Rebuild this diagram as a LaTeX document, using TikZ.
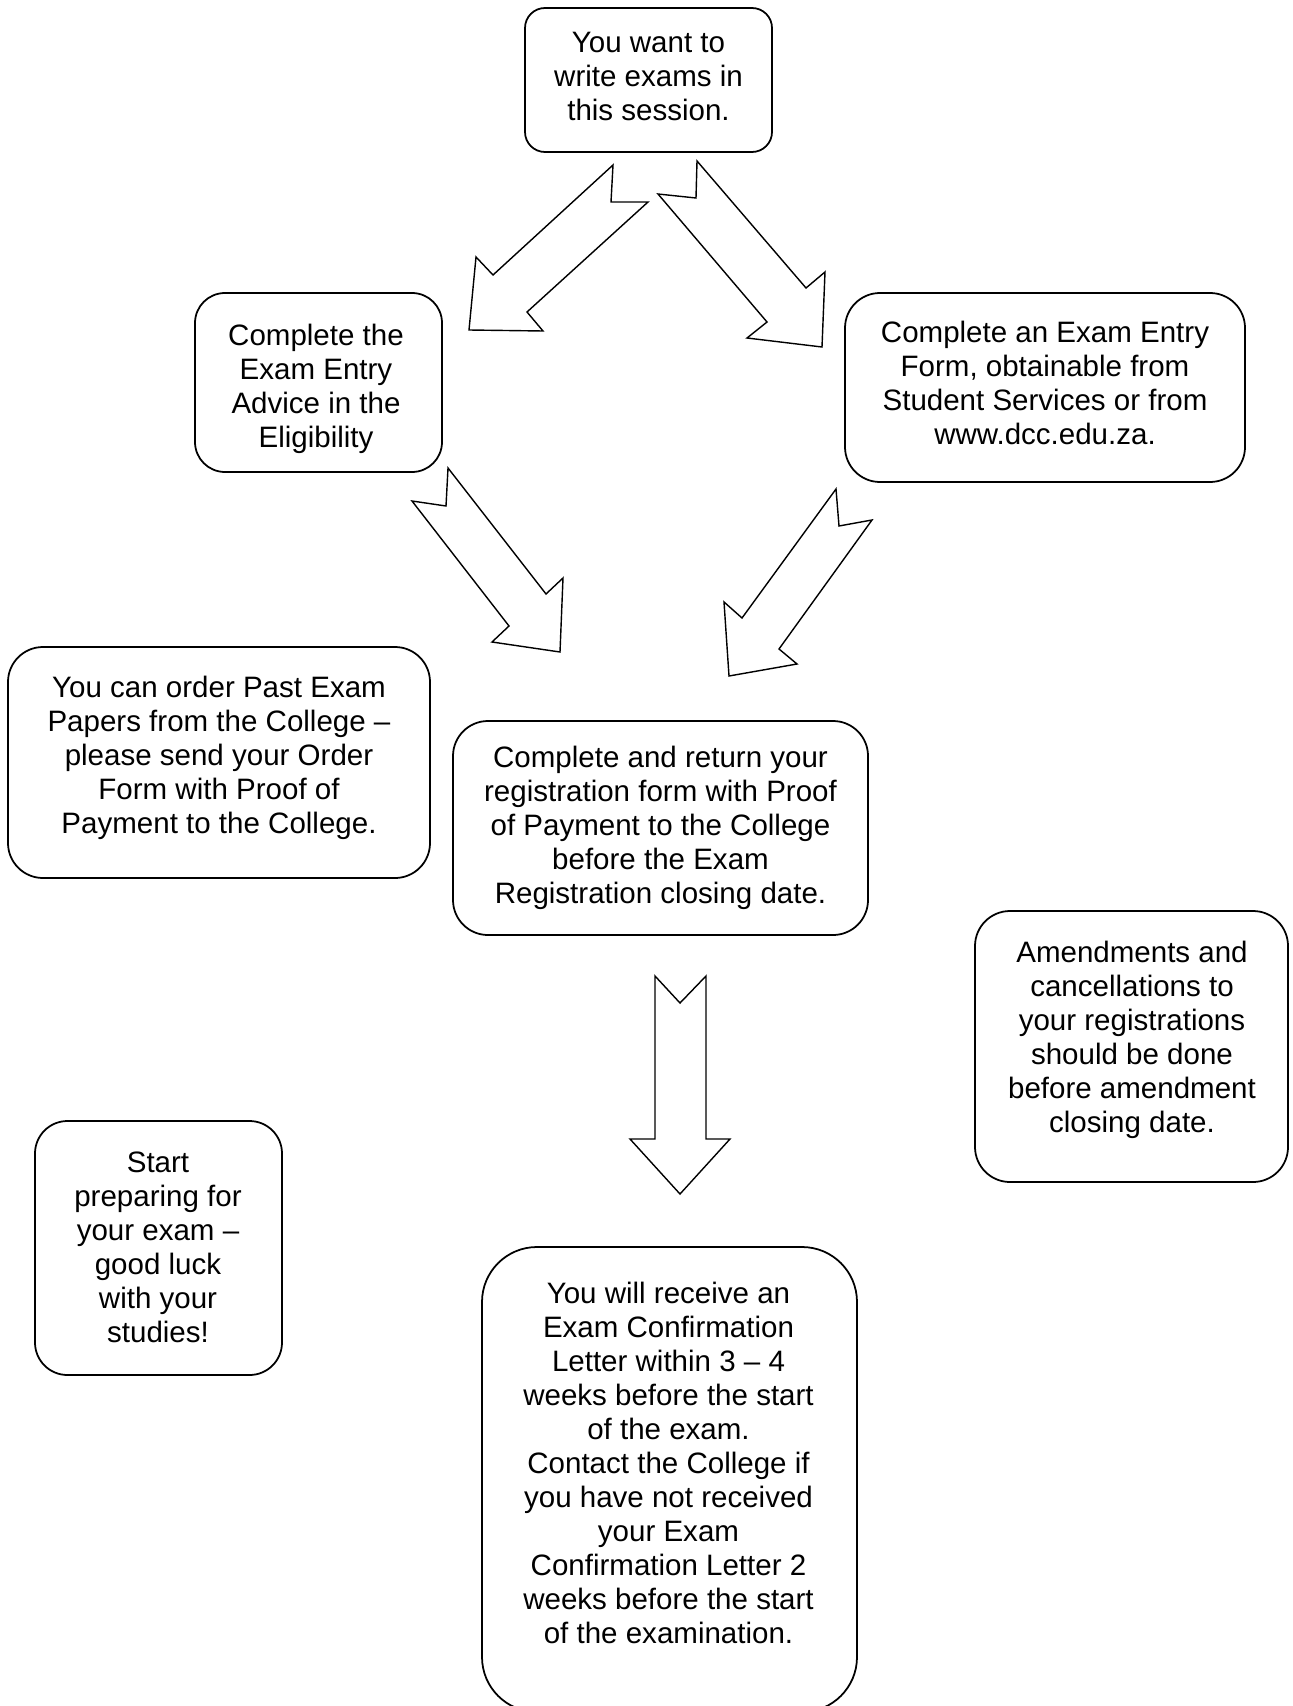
\documentclass[tikz,border=0pt]{standalone}
\usepackage{fontspec}
\setmainfont{Liberation Sans}
\usepackage{tikz}
\usetikzlibrary{fit}

\tikzset{
  box/.style={draw, rounded corners=0.7cm, line width=1pt, inner sep=0pt},
  txt/.style={anchor=north, align=center, inner sep=0pt, font=\fontsize{16.8}{19.35}\selectfont},
  blockarrow/.style={draw, line width=0.8pt, line join=miter}
}

\begin{document}
\begin{tikzpicture}[x=0.02cm, y=-0.02cm]
        \useasboundingbox (0,0) rectangle (1293,1706);
        % boxes
        \node[box, rounded corners=0.4cm, fit={(525,8) (772,152)}] (want) {};
        \node[box, rounded corners=0.6cm, fit={(195,293) (442,472)}] (elig) {};
        \node[box, fit={(845,293) (1245,482)}] (form) {};
        \node[box, fit={(8,647) (430,878)}] (past) {};
        \node[box, fit={(453,721) (868,935)}] (reg) {};
        \node[box, fit={(975,911) (1288,1182)}] (amend) {};
        \node[box, rounded corners=0.65cm, fit={(35,1121) (282,1375)}] (start) {};
        \node[box, rounded corners=1.1cm, fit={(482,1247) (857,1712)}] (confirm) {};
        % texts
        \node[txt] (wanttext) at (648.5,32) {You want to\\write exams in\\this session.};
        \node[txt] (eligtext) at (316,324) {Complete the\\Exam Entry\\Advice in the\\Eligibility};
        \node[txt] (formtext) at (1045,321) {Complete an Exam Entry\\Form, obtainable from\\Student Services or from\\www.dcc.edu.za.};
        \node[txt] (pasttext) at (219,676) {You can order Past Exam\\Papers from the College –\\please send your Order\\Form with Proof of\\Payment to the College.};
        \node[txt] (regtext) at (660.5,746) {Complete and return your\\registration form with Proof\\of Payment to the College\\before the Exam\\Registration closing date.};
        \node[txt] (amendtext) at (1132,941) {Amendments and\\cancellations to\\your registrations\\should be done\\before amendment\\closing date.};
        \node[txt] (starttext) at (158,1152) {Start\\preparing for\\your exam –\\good luck\\with your\\studies!};
        \node[txt] (confirmtext) at (668.5,1282) {You will receive an\\Exam Confirmation\\Letter within 3 – 4\\weeks before the start\\of the exam.\\Contact the College if\\you have not received\\your Exam\\Confirmation Letter 2\\weeks before the start\\of the examination.};
        % block arrows
        \draw[blockarrow] (613,165) -- (611,202) -- (648,202) -- (527,312) -- (543,331) -- (469,330) -- (476,257) -- (493,275) -- cycle;
        \draw[blockarrow] (697,161) -- (696,198) -- (658,194) -- (767,322) -- (747,338) -- (822,347) -- (825,272) -- (806,288) -- cycle;
        \draw[blockarrow] (448,468) -- (446,506) -- (412,501) -- (509,626) -- (492,642) -- (560,652) -- (563,578) -- (546,594) -- cycle;
        \draw[blockarrow] (836,489) -- (839,526) -- (872,520) -- (779,649) -- (797,664) -- (729,676) -- (724,602) -- (742,618) -- cycle;
        \draw[blockarrow] (655,976) -- (680,1003) -- (706,976) -- (706,1139) -- (730,1139) -- (680,1194) -- (630,1139) -- (655,1139) -- cycle;
    \end{tikzpicture}
\end{document}
